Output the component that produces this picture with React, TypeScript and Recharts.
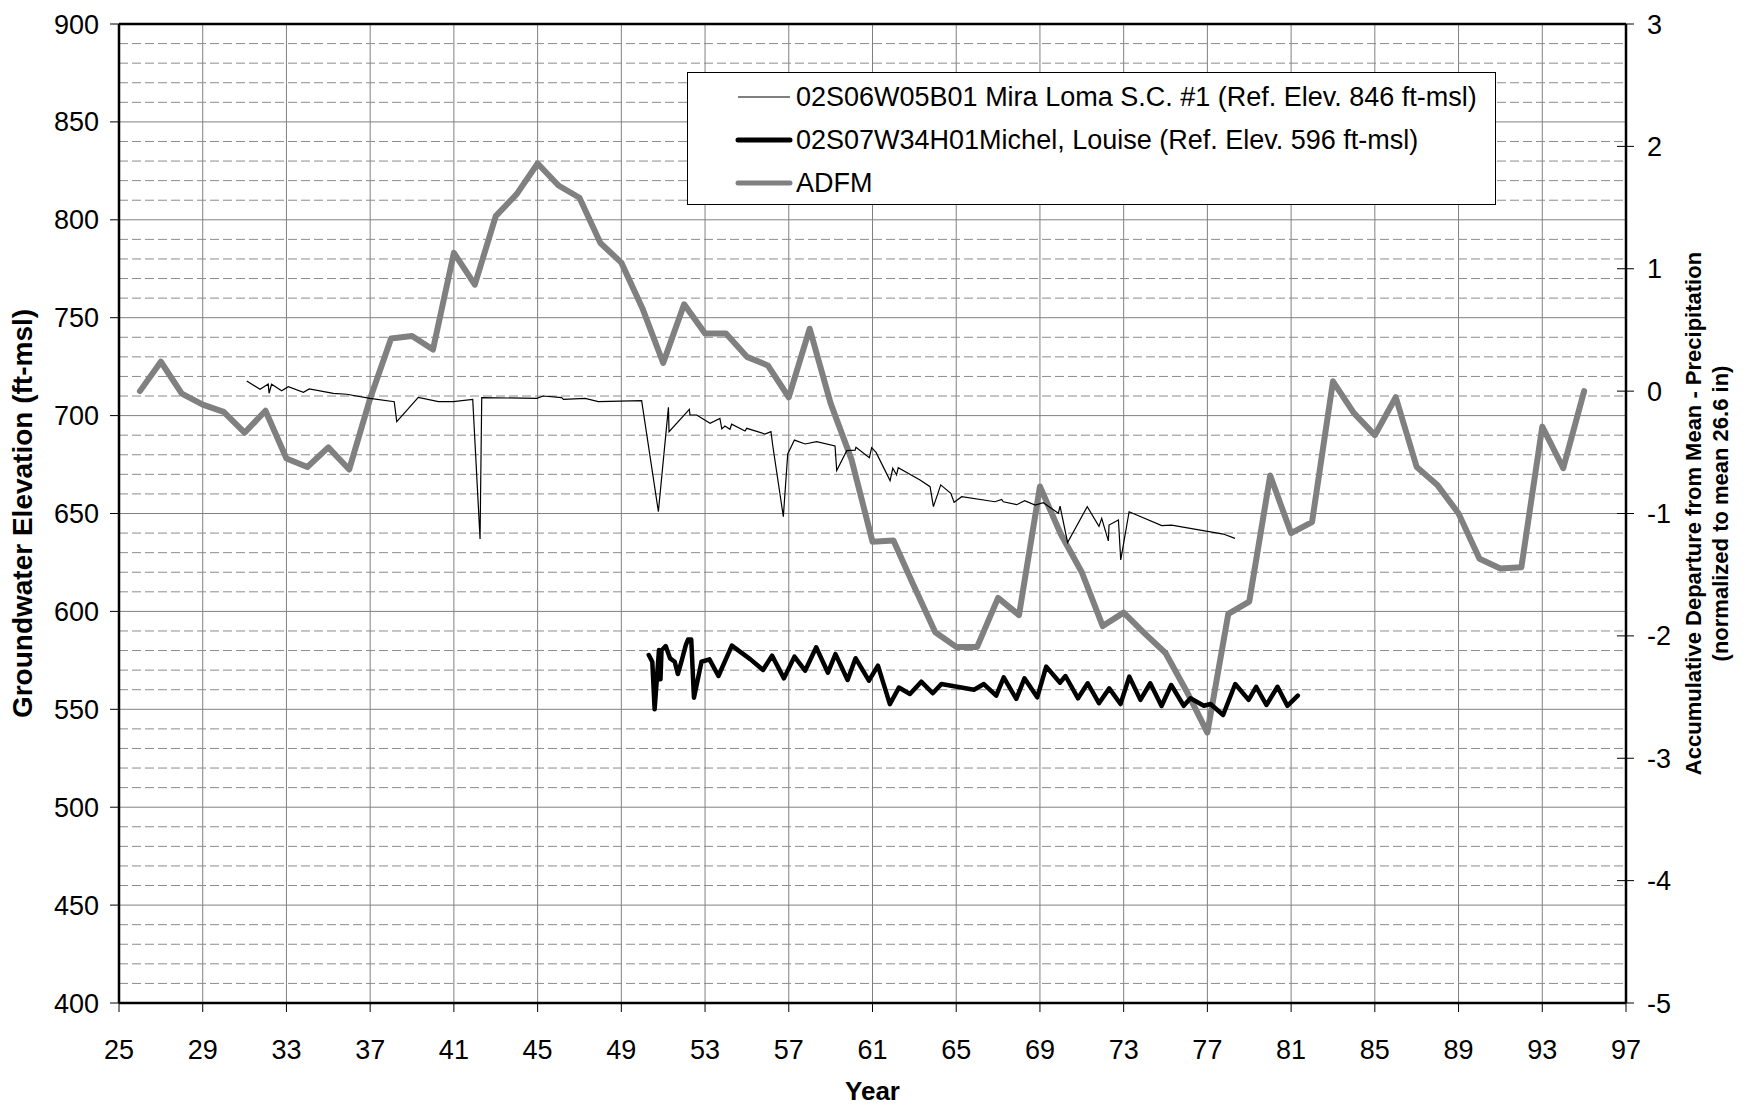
import React from 'react';
import { LineChart, Line, XAxis, YAxis, CartesianGrid, ReferenceLine, Legend, Label } from 'recharts';

const FONT = '"Liberation Sans", Arial, Helvetica, sans-serif';

// ---- tick values ----
const xTicks = [25, 29, 33, 37, 41, 45, 49, 53, 57, 61, 65, 69, 73, 77, 81, 85, 89, 93, 97];
const leftTicks = [400, 450, 500, 550, 600, 650, 700, 750, 800, 850, 900];
const rightTicks = [-5, -4, -3, -2, -1, 0, 1, 2, 3];
const minorGrid = [
  410, 420, 430, 440, 460, 470, 480, 490, 510, 520, 530, 540, 560, 570, 580, 590,
  610, 620, 630, 640, 660, 670, 680, 690, 710, 720, 730, 740, 760, 770, 780, 790,
  810, 820, 830, 840, 860, 870, 880, 890,
];

// ---- ADFM (right axis) ----
const adfmYears = [
  26, 27, 28, 29, 30, 31, 32, 33, 34, 35, 36, 37, 38, 39, 40, 41, 42, 43, 44, 45,
  46, 47, 48, 49, 50, 51, 52, 53, 54, 55, 56, 57, 58, 59, 60, 61, 62, 63, 64, 65,
  66, 67, 68, 69, 70, 71, 72, 73, 74, 75, 76, 77, 78, 79, 80, 81, 82, 83, 84, 85,
  86, 87, 88, 89, 90, 91, 92, 93, 94, 95,
];
const adfmValues = [
  0.0, 0.24, -0.02, -0.11, -0.17, -0.34, -0.16, -0.55, -0.62, -0.46, -0.64, -0.06, 0.43, 0.45, 0.34, 1.13, 0.87, 1.43, 1.61, 1.86,
  1.68, 1.58, 1.21, 1.05, 0.68, 0.23, 0.71, 0.47, 0.47, 0.28, 0.21, -0.05, 0.51, -0.1, -0.56, -1.23, -1.22, -1.6, -1.97, -2.09,
  -2.09, -1.69, -1.83, -0.78, -1.17, -1.48, -1.92, -1.81, -1.98, -2.14, -2.45, -2.79, -1.82, -1.72, -0.69, -1.16, -1.07, 0.08, -0.18, -0.36,
  -0.05, -0.62, -0.77, -1.0, -1.37, -1.45, -1.44, -0.29, -0.63, 0.0,
];

// ---- 02S06W05B01 Mira Loma S.C. #1 ----
const miraYears = [
  31.1, 31.74, 32.13, 32.17, 32.29, 32.77, 33.09, 33.81, 34.09, 35.24, 35.88, 36.99, 38.15, 38.27, 39.3, 40.26, 40.97, 41.9, 42.25, 42.33,
  44.96, 45.27, 46.15, 46.23, 47.27, 47.9, 49.97, 50.77, 51.25, 51.28, 52.25, 52.28, 52.6, 53.24, 53.71, 53.8, 53.95, 54.19, 54.27, 54.91,
  54.99, 55.86, 56.15, 56.23, 56.74, 56.95, 57.27, 57.78, 58.33, 59.21, 59.29, 59.77, 60.17, 60.21, 60.85, 60.96, 61.17, 61.84, 61.97, 62.15,
  62.23, 63.27, 63.75, 63.91, 64.26, 64.74, 64.9, 65.26, 66.85, 67.17, 67.25, 67.89, 68.27, 68.77, 69.16, 69.88, 69.96, 70.32, 71.26, 71.82,
  71.95, 72.27, 72.3, 72.75, 72.86, 73.26, 74.82, 75.29, 77.76, 78.32,
];
const miraElev = [
  717.7, 713.4, 716.1, 711.4, 716.0, 712.7, 714.8, 711.9, 713.6, 711.4, 710.9, 708.8, 707.1, 696.9, 709.3, 707.1, 707.1, 708.3, 637.0, 709.2,
  708.8, 710.0, 709.2, 708.3, 708.8, 707.1, 707.6, 651.0, 704.2, 691.8, 703.2, 700.3, 700.3, 696.1, 698.6, 693.2, 694.7, 693.0, 695.6, 692.1,
  693.5, 690.6, 691.8, 685.0, 648.4, 680.4, 687.5, 685.5, 686.7, 684.5, 671.9, 682.1, 682.4, 683.8, 678.5, 683.6, 681.2, 666.8, 673.1, 669.7,
  673.4, 667.1, 663.7, 653.5, 664.6, 660.3, 655.7, 658.6, 656.0, 657.2, 656.0, 654.5, 656.5, 654.3, 655.5, 650.1, 653.8, 635.2, 653.5, 643.4,
  647.5, 636.0, 644.1, 646.7, 626.3, 650.9, 643.8, 644.1, 639.5, 637.3,
];

// ---- 02S07W34H01 Michel, Louise ----
const michelYears = [
  50.31, 50.48, 50.59, 50.8, 50.87, 50.92, 51.12, 51.33, 51.55, 51.7, 51.87, 52.08, 52.19, 52.34, 52.47, 52.83, 53.21, 53.64, 54.28, 55.17,
  55.77, 56.2, 56.77, 57.27, 57.78, 58.31, 58.87, 59.23, 59.81, 60.19, 60.83, 61.26, 61.83, 62.26, 62.79, 63.33, 63.88, 64.29, 65.85, 66.32,
  66.91, 67.27, 67.87, 68.26, 68.87, 69.3, 69.96, 70.22, 70.82, 71.28, 71.82, 72.31, 72.85, 73.27, 73.8, 74.27, 74.81, 75.27, 75.87, 76.19,
  76.83, 77.15, 77.75, 78.33, 78.97, 79.33, 79.82, 80.35, 80.82, 81.32,
];
const michelElev = [
  577.7, 574.3, 550.0, 580.3, 565.3, 580.0, 582.3, 576.0, 574.3, 568.0, 574.3, 582.8, 585.7, 585.7, 555.9, 574.3, 575.5, 567.0, 582.5, 575.5,
  570.1, 577.4, 565.8, 576.9, 569.7, 581.7, 568.7, 578.2, 565.0, 576.1, 564.6, 572.3, 552.6, 561.1, 557.8, 564.1, 558.2, 562.9, 560.0, 562.9,
  557.0, 566.3, 555.3, 565.8, 556.1, 571.8, 563.6, 567.0, 555.6, 563.3, 553.1, 560.7, 552.7, 566.7, 554.8, 563.3, 551.7, 562.4, 551.8, 555.6,
  551.8, 552.7, 547.1, 562.9, 554.8, 561.5, 552.2, 561.5, 551.8, 557.0,
];

const seriesNames = [
  '02S06W05B01 Mira Loma S.C. #1 (Ref. Elev. 846 ft-msl)',
  '02S07W34H01Michel, Louise (Ref. Elev. 596 ft-msl)',
  'ADFM',
];

const adfmData = adfmYears.map((year, i) => ({ year, v: adfmValues[i] }));
const miraData = miraYears.map((year, i) => ({ year, v: miraElev[i] }));
const michelData = michelYears.map((year, i) => ({ year, v: michelElev[i] }));

const legendItems = [
  { label: seriesNames[0], color: '#000000', width: 1.2, cap: 'butt' },
  { label: seriesNames[1], color: '#000000', width: 5, cap: 'round' },
  { label: seriesNames[2], color: '#808080', width: 5, cap: 'round' },
];

const LegendBox = () => (
  <div
    style={{
      width: 809,
      height: 133,
      border: '1.5px solid #000',
      background: '#fff',
      boxSizing: 'border-box',
      fontFamily: FONT,
      fontSize: 27,
      color: '#000',
      position: 'relative',
    }}
  >
    {legendItems.map((it, i) => (
      <div
        key={i}
        style={{
          position: 'absolute',
          left: 0,
          top: 24 + i * 43 - 17,
          height: 34,
          display: 'flex',
          alignItems: 'center',
          whiteSpace: 'nowrap',
        }}
      >
        <svg width={108} height={34} style={{ display: 'block' }}>
          <line x1={50} x2={102} y1={17} y2={17} stroke={it.color} strokeWidth={it.width} strokeLinecap={it.cap as any} />
        </svg>
        <span>{it.label}</span>
      </div>
    ))}
  </div>
);

const RightTick = (props: any) => {
  const { x, y, payload } = props;
  return (
    <g>
      <line x1={x - 30} x2={x - 13} y1={y} y2={y} stroke="#000" strokeWidth={1} />
      <text x={x} y={y} dy="0.355em" textAnchor="start" fontSize={27} fontFamily={FONT} fill="#000">
        {payload.value}
      </text>
    </g>
  );
};

const YearLabel = (props: any) => {
  const vb = props.viewBox || {};
  return (
    <text x={vb.x + vb.width / 2} y={vb.y + 97} textAnchor="middle" fontSize={26} fontWeight="bold" fontFamily={FONT} fill="#000">
      Year
    </text>
  );
};

const LeftTitle = (props: any) => {
  const vb = props.viewBox || {};
  const cx = vb.x + 22;
  const cy = vb.y + vb.height / 2;
  return (
    <text
      x={cx}
      y={cy}
      transform={`rotate(-90, ${cx}, ${cy})`}
      textAnchor="middle"
      dominantBaseline="central"
      fontSize={28}
      fontWeight="bold"
      fontFamily={FONT}
      fill="#000"
    >
      Groundwater Elevation (ft-msl)
    </text>
  );
};

const RightTitle = (props: any) => {
  const vb = props.viewBox || {};
  const cy = vb.y + vb.height / 2;
  const x1 = vb.x + 67;
  const x2 = vb.x + 94;
  return (
    <g>
      <text
        x={x1}
        y={cy}
        transform={`rotate(-90, ${x1}, ${cy})`}
        textAnchor="middle"
        dominantBaseline="central"
        fontSize={22}
        fontWeight="bold"
        fontFamily={FONT}
        fill="#000"
      >
        Accumulative Departure from Mean - Precipitation
      </text>
      <text
        x={x2}
        y={cy}
        transform={`rotate(-90, ${x2}, ${cy})`}
        textAnchor="middle"
        dominantBaseline="central"
        fontSize={22}
        fontWeight="bold"
        fontFamily={FONT}
        fill="#000"
      >
        (normalized to mean 26.6 in)
      </text>
    </g>
  );
};

export default function App() {
  return (
    <div style={{ position: 'absolute', left: 0, top: 0, width: 1753, height: 1112, background: '#fff' }}>
      <LineChart width={1753} height={1112} margin={{ top: 24, right: 0, bottom: 0, left: 0 }}>
        <CartesianGrid yAxisId="left" stroke="#808080" strokeWidth={1} />
        {minorGrid.map((v) => (
          <ReferenceLine key={v} yAxisId="left" y={v} stroke="#8c8c8c" strokeWidth={1} strokeDasharray="9 4" />
        ))}
        <ReferenceLine yAxisId="left" y={900} stroke="#000" strokeWidth={2.5} />
        <XAxis
          dataKey="year"
          type="number"
          domain={[25, 97]}
          ticks={xTicks}
          interval={0}
          allowDataOverflow
          height={109}
          tickSize={9}
          tickMargin={28}
          axisLine={{ stroke: '#000', strokeWidth: 2.5 }}
          tickLine={{ stroke: '#000', strokeWidth: 1 }}
          tick={{ fill: '#000', fontSize: 27, fontFamily: FONT }}
        >
          <Label content={YearLabel} />
        </XAxis>
        <YAxis
          yAxisId="left"
          orientation="left"
          type="number"
          domain={[400, 900]}
          ticks={leftTicks}
          interval={0}
          allowDataOverflow
          width={119}
          tickSize={9}
          tickMargin={11}
          axisLine={{ stroke: '#000', strokeWidth: 2.5 }}
          tickLine={{ stroke: '#000', strokeWidth: 1 }}
          tick={{ fill: '#000', fontSize: 27, fontFamily: FONT }}
        >
          <Label content={LeftTitle} />
        </YAxis>
        <YAxis
          yAxisId="right"
          orientation="right"
          type="number"
          domain={[-5, 3]}
          ticks={rightTicks}
          interval={0}
          allowDataOverflow
          width={127}
          tickSize={9}
          tickMargin={12}
          axisLine={{ stroke: '#000', strokeWidth: 2.5 }}
          tickLine={false}
          tick={RightTick}
        >
          <Label content={RightTitle} />
        </YAxis>
        <Legend
          layout="vertical"
          align="center"
          verticalAlign="middle"
          content={LegendBox}
          wrapperStyle={{ left: 687, top: 72, width: 809, height: 133 }}
        />
        <Line
          yAxisId="right"
          data={adfmData}
          dataKey="v"
          name={seriesNames[2]}
          type="linear"
          stroke="#808080"
          strokeWidth={6}
          strokeLinejoin="round"
          strokeLinecap="round"
          dot={false}
          activeDot={false}
          isAnimationActive={false}
        />
        <Line
          yAxisId="left"
          data={miraData}
          dataKey="v"
          name={seriesNames[0]}
          type="linear"
          stroke="#000"
          strokeWidth={1.2}
          dot={false}
          activeDot={false}
          isAnimationActive={false}
        />
        <Line
          yAxisId="left"
          data={michelData}
          dataKey="v"
          name={seriesNames[1]}
          type="linear"
          stroke="#000"
          strokeWidth={4.5}
          strokeLinejoin="round"
          strokeLinecap="round"
          dot={false}
          activeDot={false}
          isAnimationActive={false}
        />
      </LineChart>
    </div>
  );
}
